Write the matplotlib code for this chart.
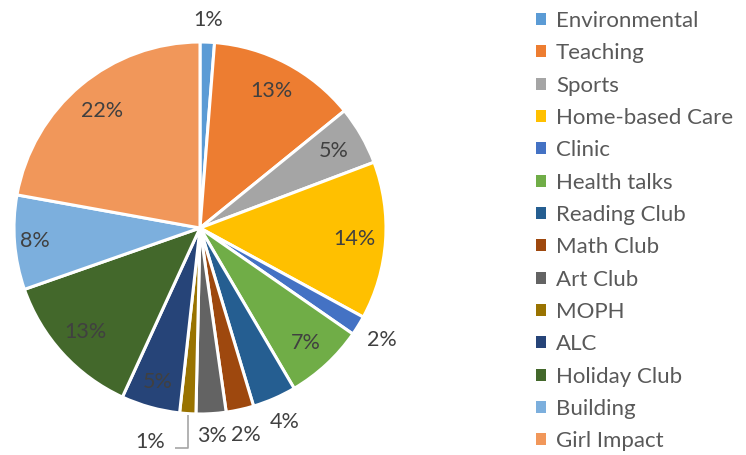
import matplotlib
matplotlib.use("Agg")
import matplotlib.pyplot as plt
import numpy as np
from matplotlib.patches import Patch

categories = ["Environmental", "Teaching", "Sports", "Home-based Care", "Clinic",
              "Health talks", "Reading Club", "Math Club", "Art Club", "MOPH",
              "ALC", "Holiday Club", "Building", "Girl Impact"]
values = [1.25, 12.9, 5.1, 13.7, 1.7, 6.9, 3.8, 2.4, 2.6, 1.4, 5.1, 12.8, 8.2, 22.15]
colors = ["#5B9BD5", "#ED7D31", "#A5A5A5", "#FFC000", "#4472C4", "#70AD47",
          "#255E91", "#9E480E", "#636363", "#997300", "#264478", "#43682B",
          "#7CAFDD", "#F1975A"]

# label radial distances (style)
label_dist = [1.12, 0.83, 0.83, 0.83, 1.15, 0.84, 1.14, 1.14, 1.12, None, 0.86, 0.83, 0.89, 0.82]

plt.rcParams['font.family'] = ['Lato', 'DejaVu Sans']
W, H = 746, 455
fig = plt.figure(figsize=(W / 100, H / 100), dpi=100)
cx, cy, R = 200, 228, 186
ax = fig.add_axes([(cx - R) / W, (H - cy - R) / H, 2 * R / W, 2 * R / H])
wedges, _ = ax.pie(values, colors=colors, startangle=90, counterclock=False,
                   radius=1, wedgeprops=dict(edgecolor="white", linewidth=2.2))
ax.set_xlim(-1, 1)
ax.set_ylim(-1, 1)
ax.set_aspect("equal")
ax.axis("off")

total = sum(values)
txt_color = "#404040"
fs_lab = 15.5
for i, w in enumerate(wedges):
    pct = "%d%%" % round(values[i] / total * 100)
    mid = np.deg2rad((w.theta1 + w.theta2) / 2)
    d = label_dist[i]
    if d is None:
        x0, y0 = np.cos(mid) * 1.01, np.sin(mid) * 1.01
        y1 = -1.185
        x2 = x0 - 0.07
        ax.plot([x0, x0, x2], [y0, y1, y1], color="#A5A5A5", lw=1.2, clip_on=False,
                solid_capstyle="butt")
        ax.text(x2 - 0.13, y1 + 0.035, pct, ha="center", va="center", fontsize=fs_lab,
                color=txt_color)
        continue
    ax.text(np.cos(mid) * d, np.sin(mid) * d, pct, ha="center", va="center",
            fontsize=fs_lab, color=txt_color)

handles = [Patch(facecolor=c, edgecolor="none") for c in colors]
fig.legend(handles, categories, loc="upper left", bbox_to_anchor=(536 / W, 1 - 11 / H),
           frameon=False, fontsize=16, handlelength=0.45, handleheight=0.45,
           handletextpad=0.45, labelspacing=0.555, labelcolor="#595959", borderaxespad=0,
           borderpad=0)

fig.savefig("out.png", dpi=100)
